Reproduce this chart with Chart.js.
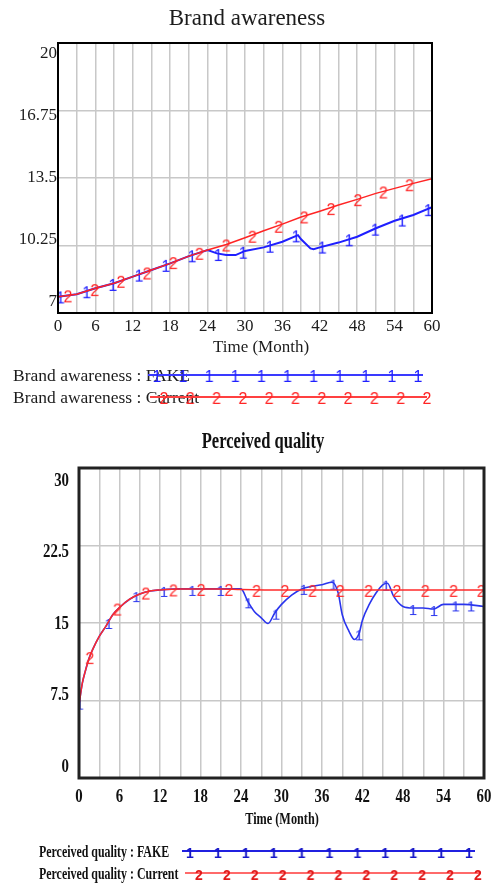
<!DOCTYPE html>
<html>
<head>
<meta charset="utf-8">
<script src="https://cdn.jsdelivr.net/npm/chart.js@4/dist/chart.umd.min.js"></script>
<style>
  html, body { margin: 0; padding: 0; background: #fff; }
  #wrap { position: relative; width: 496px; height: 885px; }
  canvas { position: absolute; left: 0; }
  #awareness { top: 0; }
  #quality { top: 410px; }
</style>
</head>
<body>
<div id="wrap">
  <canvas id="awareness" width="496" height="410" style="width:496px;height:410px"></canvas>
  <canvas id="quality" width="496" height="475" style="width:496px;height:475px"></canvas>
</div>
<script>
// time axis (months)
const gridMonths = [0, 3, 6, 9, 12, 15, 18, 21, 24, 27, 30, 33, 36, 39, 42, 45, 48, 51, 54, 57, 60];
const monthLabels = [0, 6, 12, 18, 24, 30, 36, 42, 48, 54, 60];

// Brand awareness
const awareTicks = [7, 10.25, 13.5, 16.75, 20];
const awareFakeT = [0, 3, 6, 9, 12, 15, 18, 21, 24, 25.5, 27, 28.5, 30, 33, 36, 38.5, 39, 40.5, 41, 42, 45, 48, 51, 54, 57, 60];
const awareFakeV = [7.78, 7.9, 8.19, 8.43, 8.75, 9.07, 9.39, 9.74, 10.03, 9.87, 9.79, 9.79, 9.99, 10.16, 10.43, 10.75, 10.55, 10.11, 10.07, 10.16, 10.39, 10.67, 11.08, 11.44, 11.72, 12.09];
const awareCurT = [0, 3, 6, 9, 12, 15, 18, 21, 24, 27, 30, 33, 36, 39, 42, 45, 48, 51, 54, 57, 60];
const awareCurV = [7.78, 7.9, 8.19, 8.43, 8.75, 9.07, 9.39, 9.74, 10.03, 10.3, 10.62, 10.96, 11.28, 11.62, 11.9, 12.2, 12.47, 12.76, 13.0, 13.24, 13.47];
const awareFakeMarkT = [0.4, 4.6, 8.8, 13, 17.3, 21.5, 25.7, 29.7, 34, 38.2, 42.4, 46.7, 50.9, 55.2, 59.4];
const awareFakeMarkV = [7.8, 8.05, 8.4, 8.85, 9.32, 9.78, 9.84, 9.95, 10.24, 10.74, 10.2, 10.55, 11.06, 11.5, 12.0];
const awareCurMarkT = [1.6, 5.9, 10.1, 14.3, 18.5, 22.7, 27, 31.2, 35.4, 39.5, 43.8, 48.1, 52.2, 56.4];
const awareCurMarkV = [7.85, 8.15, 8.55, 8.95, 9.45, 9.9, 10.3, 10.72, 11.2, 11.65, 12.05, 12.48, 12.85, 13.2];

// Perceived quality
const qualTicks = [0, 7.5, 15, 22.5, 30];
const qualFakeT = [0, 0.5, 1, 1.5, 2, 3, 4, 5, 6, 7.5, 9, 10.5, 12, 15, 18, 21, 24, 25, 26, 27, 28, 29, 30, 31.5, 33, 34.5, 36, 37.5, 38.4, 39, 40, 40.8, 41.5, 42, 43, 44, 45, 45.7, 46.6, 48, 49.5, 51, 52.5, 54, 57, 60];
const qualFakeV = [7.1, 9.2, 10.5, 11.6, 12.4, 13.7, 14.7, 15.8, 16.5, 17.3, 17.8, 18.1, 18.2, 18.3, 18.3, 18.3, 18.3, 17.1, 16.1, 15.5, 14.95, 15.97, 16.8, 17.7, 18.3, 18.55, 18.7, 18.95, 17.9, 15.8, 14.2, 13.4, 14.0, 15.3, 16.8, 17.9, 18.7, 18.85, 17.6, 16.6, 16.45, 16.45, 16.35, 16.8, 16.8, 16.6];
const qualCurT = [0, 0.5, 1, 1.5, 2, 3, 4, 5, 6, 7.5, 9, 10.5, 12, 15, 18, 21, 24, 30, 36, 42, 48, 54, 60];
const qualCurV = [7.1, 9.2, 10.5, 11.6, 12.4, 13.7, 14.7, 15.8, 16.5, 17.3, 17.8, 18.1, 18.2, 18.3, 18.3, 18.3, 18.25, 18.2, 18.2, 18.2, 18.2, 18.2, 18.2];
const qualFakeMarkT = [0.1, 4.4, 8.5, 12.6, 16.8, 21, 25.1, 29.2, 33.3, 37.7, 41.5, 45.5, 49.5, 52.6, 55.8, 58.1];
const qualFakeMarkV = [7.3, 15.1, 17.7, 18.2, 18.3, 18.3, 17.1, 16.0, 18.4, 18.9, 14.0, 18.8, 16.45, 16.35, 16.8, 16.8];
const qualCurMarkT = [1.6, 5.7, 9.9, 14, 18.1, 22.2, 26.3, 30.5, 34.6, 38.7, 42.9, 47.1, 51.3, 55.5, 59.6];
const qualCurMarkV = [11.7, 16.4, 17.95, 18.25, 18.3, 18.3, 18.2, 18.2, 18.2, 18.2, 18.2, 18.2, 18.2, 18.2, 18.2];


function pts(ts, vs) {
  return ts.map((t, i) => ({ x: t, y: vs[i] }));
}

// vensim style number glyph used as point style
function glyph(ch, color, size, bold) {
  const c = document.createElement('canvas');
  c.width = 14;
  c.height = 26;
  const g = c.getContext('2d');
  g.font = (bold ? 'bold ' : '') + size + 'px "Liberation Sans"';
  g.fillStyle = color;
  g.textAlign = 'center';
  g.textBaseline = 'middle';
  g.fillText(ch, 7, 16);
  return c;
}

function text(ctx, str, x, y, font, color, align, sx) {
  ctx.save();
  ctx.translate(x, y);
  ctx.scale(sx || 1, 1);
  ctx.font = font;
  ctx.fillStyle = color;
  ctx.textAlign = align;
  ctx.textBaseline = 'middle';
  ctx.fillText(str, 0, 0);
  ctx.restore();
}

function makeChart(id, cfg) {
  const decor = {
    id: 'decor',
    afterDraw(chart) {
      const ctx = chart.ctx;
      const a = chart.chartArea;
      const xs = chart.scales.x;

      ctx.save();
      ctx.strokeStyle = cfg.borderColor;
      ctx.lineWidth = cfg.borderWidth;
      ctx.strokeRect(a.left, a.top, a.right - a.left, a.bottom - a.top);
      ctx.restore();

      monthLabels.forEach(m => {
        text(ctx, String(m), xs.getPixelForValue(m), cfg.xTickY, cfg.tickFont, cfg.textColor, 'center', cfg.tickSx);
      });

      // vensim spreads the value labels a bit inside the frame
      const n = cfg.yTicks.length;
      const y0 = a.top + cfg.yPadTop;
      const y1 = a.bottom - cfg.yPadBottom;
      cfg.yTicks.slice().reverse().forEach((v, i) => {
        text(ctx, String(v), a.left - cfg.yTickGap, y0 + i * (y1 - y0) / (n - 1), cfg.tickFont, cfg.textColor, 'right', cfg.tickSx);
      });

      text(ctx, cfg.title, cfg.titleX, cfg.titleY, cfg.titleFont, cfg.textColor, 'center', cfg.titleSx);
      text(ctx, 'Time (Month)', cfg.axisX, cfg.axisY, cfg.axisFont, cfg.textColor, 'center', cfg.axisSx);

      cfg.legend.forEach(row => {
        text(ctx, row.label, row.textX, row.y, cfg.legendFont, cfg.textColor, 'left', cfg.legendSx);
        ctx.save();
        ctx.strokeStyle = row.lineColor;
        ctx.lineWidth = row.lineWidth;
        ctx.beginPath();
        ctx.moveTo(row.x0, row.lineY);
        ctx.lineTo(row.x1, row.lineY);
        ctx.stroke();
        for (let k = 0; k < 11; k++) {
          const gx = row.g0 + k * row.gs;
          ctx.drawImage(row.glyph, gx - row.glyph.width / 2, row.lineY - row.glyph.height / 2);
        }
        ctx.restore();
      });
    }
  };

  return new Chart(document.getElementById(id), {
    type: 'line',
    data: { datasets: cfg.datasets },
    options: {
      responsive: false,
      animation: false,
      layout: { padding: cfg.padding },
      plugins: { legend: { display: false }, tooltip: { enabled: false }, title: { display: false } },
      scales: {
        x: {
          type: 'linear', min: 0, max: 60,
          afterBuildTicks: s => { s.ticks = gridMonths.map(v => ({ value: v })); },
          afterFit: s => { s.height = 0; },
          ticks: { display: false },
          grid: { color: '#c8c8c8', lineWidth: 1.5, drawTicks: false },
          border: { display: false }
        },
        y: {
          type: 'linear', min: cfg.yTicks[0], max: cfg.yTicks[cfg.yTicks.length - 1],
          afterBuildTicks: s => { s.ticks = cfg.yTicks.map(v => ({ value: v })); },
          afterFit: s => { s.width = 0; },
          ticks: { display: false },
          grid: { color: '#c8c8c8', lineWidth: 1.5, drawTicks: false },
          border: { display: false }
        }
      }
    },
    plugins: [decor]
  });
}

function lineSet(data, color, width, smooth) {
  return {
    data: data, borderColor: color, borderWidth: width, pointRadius: 0,
    tension: 0, cubicInterpolationMode: smooth ? 'monotone' : 'default', fill: false
  };
}

function markSet(data, g) {
  return { data: data, showLine: false, pointStyle: g, pointRadius: 4 };
}

// --- Brand awareness ---
const blue1 = '#1f1fff', red1 = '#ff2424';
const g1a = glyph('1', blue1, 16), g2a = glyph('2', red1, 16);

makeChart('awareness', {
  datasets: [
    lineSet(pts(awareCurT, awareCurV), red1, 1.5, false),
    markSet(pts(awareCurMarkT, awareCurMarkV), g2a),
    lineSet(pts(awareFakeT, awareFakeV), blue1, 2, false),
    markSet(pts(awareFakeMarkT, awareFakeMarkV), g1a)
  ],
  padding: { left: 58, right: 64, top: 43, bottom: 97 },
  yTicks: awareTicks,
  borderColor: '#000', borderWidth: 2,
  textColor: '#1c1c1c',
  tickFont: '17px "Liberation Serif"', tickSx: 1,
  xTickY: 327, yTickGap: 1, yPadTop: 11, yPadBottom: 11,
  title: 'Brand awareness', titleX: 247, titleY: 19, titleFont: '23px "Liberation Serif"', titleSx: 1,
  axisX: 261, axisY: 348, axisFont: '17px "Liberation Serif"', axisSx: 1,
  legendFont: '17.5px "Liberation Serif"', legendSx: 1,
  legend: [
    { label: 'Brand awareness : FAKE', textX: 13, y: 376, lineY: 375, x0: 148, x1: 423, g0: 157, gs: 26.1, lineColor: '#3a3aff', lineWidth: 2, glyph: g1a },
    { label: 'Brand awareness : Current', textX: 13, y: 398, lineY: 397, x0: 150, x1: 427, g0: 164, gs: 26.3, lineColor: '#ff4040', lineWidth: 2, glyph: g2a }
  ]
});

// --- Perceived quality ---
const blue2 = '#2a35ee', red2 = '#ff2a2a';
const g1q = glyph('1', blue2, 15), g2q = glyph('2', red2, 16);
const g1l = glyph('1', '#1515c8', 14, true), g2l = glyph('2', '#e01818', 14, true);

makeChart('quality', {
  datasets: [
    lineSet(pts(qualCurT, qualCurV), red2, 1.5, true),
    markSet(pts(qualCurMarkT, qualCurMarkV), g2q),
    lineSet(pts(qualFakeT, qualFakeV), blue2, 1.6, true),
    markSet(pts(qualFakeMarkT, qualFakeMarkV), g1q)
  ],
  padding: { left: 79, right: 12, top: 58, bottom: 107 },
  yTicks: qualTicks,
  borderColor: '#222', borderWidth: 3,
  textColor: '#111',
  tickFont: 'bold 19px "Liberation Serif"', tickSx: 0.78,
  xTickY: 387, yTickGap: 10, yPadTop: 13, yPadBottom: 11,
  title: 'Perceived quality', titleX: 263, titleY: 32, titleFont: 'bold 23px "Liberation Serif"', titleSx: 0.72,
  axisX: 282, axisY: 410, axisFont: 'bold 17px "Liberation Serif"', axisSx: 0.72,
  legendFont: 'bold 17px "Liberation Serif"', legendSx: 0.7,
  legend: [
    { label: 'Perceived quality : FAKE', textX: 39, y: 443, lineY: 441, x0: 182, x1: 475, g0: 190, gs: 27.9, lineColor: '#2020e0', lineWidth: 2, glyph: g1l },
    { label: 'Perceived quality : Current', textX: 39, y: 465, lineY: 463, x0: 185, x1: 480, g0: 199, gs: 27.9, lineColor: '#ff6a6a', lineWidth: 2, glyph: g2l }
  ]
});
</script>
</body>
</html>
